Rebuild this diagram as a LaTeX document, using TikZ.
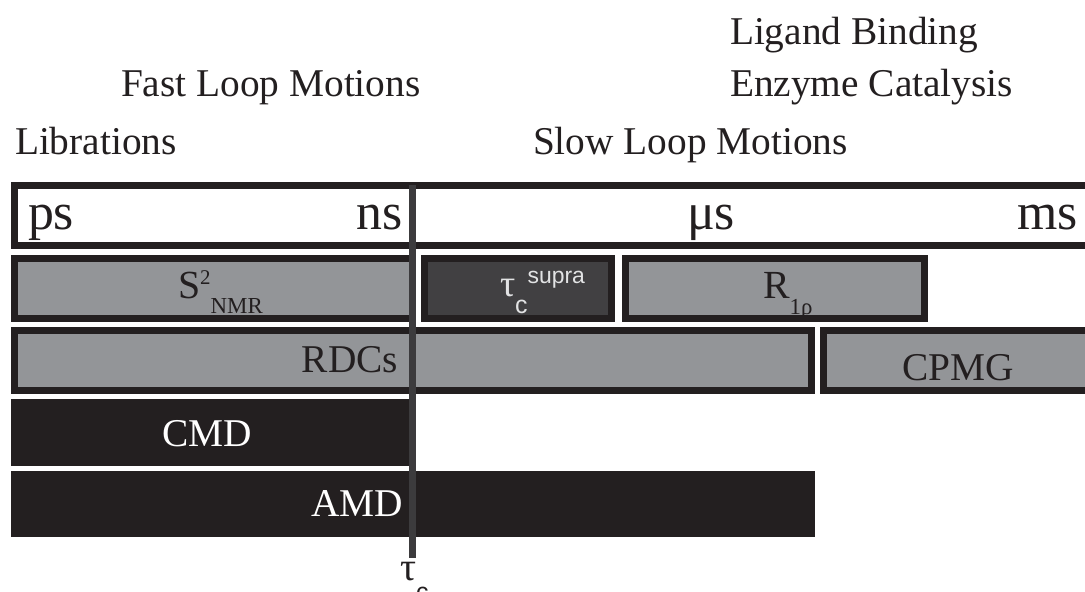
\documentclass[tikz,border=0pt]{standalone}
\usepackage{fontspec}
\setmainfont{Liberation Serif}
\newfontfamily\hvf{Liberation Sans}
\newcommand{\fsz}[1]{\fontsize{#1}{#1}\selectfont}
\definecolor{ink}{HTML}{231F20}
\definecolor{midgray}{HTML}{939598}
\definecolor{darkbox}{HTML}{414042}
\definecolor{tauline}{HTML}{3C3B3D}
\definecolor{lighttxt}{HTML}{E2E3E4}
\tikzset{
  boxline/.style={draw=ink, line width=7bp},
  graybox/.style={boxline, fill=midgray},
  txt/.style={inner sep=0pt, outer sep=0pt, text=ink},
  big/.style={txt, font=\fsz{39.5}},
  unit/.style={txt, font=\fsz{52}},
}
\begin{document}
\begin{tikzpicture}[x=1bp, y=-1bp]
\clip (0,0) rectangle (1085,592);
\fill[white] (0,0) rectangle (1085,592);

% header labels
\node[big, anchor=base west] (lig) at (730,45) {Ligand Binding};
\node[big, anchor=base west] (enz) at (730,97) {Enzyme Catalysis};
\node[big, anchor=base west] (fast) at (121,97) {Fast Loop Motions};
\node[big, anchor=base west] (lib) at (15,155) {Librations};
\node[big, anchor=base west] (slow) at (533,155) {Slow Loop Motions};

% time-scale box
\path[boxline, fill=white] (14.5,185.5) rectangle (1100,245.5);
\node[unit, anchor=base west] (ps) at (28,230) {ps};
\node[unit, anchor=base east] (ns) at (403,230) {ns};
\node[unit, anchor=base west] (mus) at (687,230) {μs};
\node[unit, anchor=base east] (ms) at (1078,230) {ms};

% row 1
\path[graybox] (14.5,258.5) rectangle (412.5,318.5);
\path[boxline, fill=darkbox] (424.5,258.5) rectangle (611.5,318.5);
\path[graybox] (625.5,258.5) rectangle (924.5,318.5);
\node[txt, anchor=base west] (s2) at (178,298.3)
  {\fsz{40}S\raisebox{13.3bp}{\fsz{21}2}\raisebox{-15bp}{\fsz{23}NMR}};
\node[txt, text=lighttxt, anchor=base west] (tsup) at (500,296.7)
  {\fsz{38}τ\raisebox{-16.6bp}{\hvf\fsz{25}c}\raisebox{13.4bp}{\hvf\fsz{23}supra}};
\node[txt, anchor=base west] (r1r) at (763,298.3)
  {\fsz{40}R\raisebox{-16.7bp}{\fsz{23}1ρ}};

% row 2
\path[graybox] (14.5,330.5) rectangle (811.5,390.5);
\path[graybox] (823.5,330.5) rectangle (1100,390.5);
\node[big, anchor=base east] (rdc) at (398,372.3) {RDCs};
\node[big, anchor=base] (cpmg) at (958,380) {CPMG};

% rows 3 and 4
\fill[ink] (11,399) rectangle (412,466);
\fill[ink] (11,471) rectangle (815,537);
\node[big, text=white, anchor=base] (cmd) at (207.5,446.7) {CMD};
\node[big, text=white, anchor=base east] (amd) at (403,516.7) {AMD};

% tau_c line
\coordinate (tautop) at (412.5,185);
\coordinate (taubot) at (412.5,558);
\draw[tauline, line width=7bp] (tautop) -- (taubot);
\node[txt, anchor=base west] (tauc) at (400,580)
  {\fsz{40}τ\raisebox{-20bp}{\hvf\fsz{25}c}};
\end{tikzpicture}
\end{document}
